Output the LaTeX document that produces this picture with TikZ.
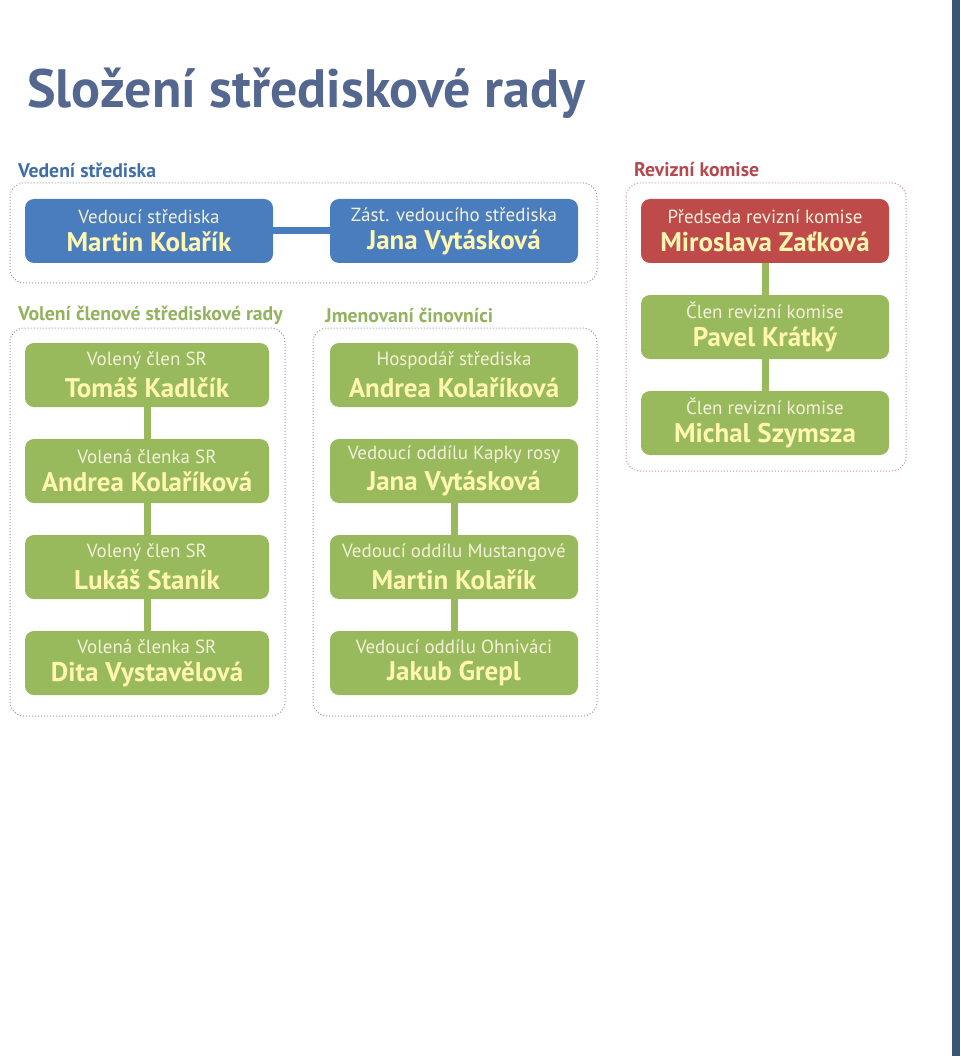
\documentclass[tikz,border=0pt]{standalone}
\usepackage{fontspec}
\setmainfont{PT Sans}

\definecolor{titleblue}{HTML}{53678F}
\definecolor{boxblue}{HTML}{4A7DBE}
\definecolor{boxred}{HTML}{BF4A4A}
\definecolor{boxgreen}{HTML}{98BA5D}
\definecolor{labelblue}{HTML}{3F6EAA}
\definecolor{labelred}{HTML}{B5474E}
\definecolor{labelgreen}{HTML}{93B25D}
\definecolor{roletext}{HTML}{F4F1DA}
\definecolor{nametext}{HTML}{FFF6B0}
\definecolor{sidebar}{HTML}{3B5574}

\newcommand{\member}[2]{{\fontsize{19}{22}\selectfont\color{roletext}#1}\\[7pt]{\fontsize{27}{30}\selectfont\bfseries\color{nametext}#2}}

\begin{document}
\begin{tikzpicture}[x=1pt, y=-1pt,
    box/.style={rounded corners=9pt, minimum height=64pt, align=center, inner sep=0pt},
    wbox/.style={box, minimum width=248pt},
    nbox/.style={box, minimum width=244pt},
    link/.style={line width=7pt},
    frame/.style={draw=gray!80, dotted, line width=1pt, rounded corners=14pt},
    seclabel/.style={anchor=west, font=\fontsize{19.7}{22}\selectfont\bfseries, inner sep=0pt}]

    \useasboundingbox (0,0) rectangle (960,1056);

    % Side bar
    \fill[sidebar] (952,0) rectangle (960,1056);

    % Title
    \node[anchor=base west, inner sep=0pt, text=titleblue, font=\fontsize{54}{58}\selectfont\bfseries] (title) at (27,108) {Složení střediskové rady};

    % Section labels
    \node[seclabel, text=labelblue] (lvedeni) at (18,170) {Vedení střediska};
    \node[seclabel, text=labelred] (lrevize) at (634,170) {Revizní komise};
    \node[seclabel, text=labelgreen] (lvoleni) at (18,315) {Volení členové střediskové rady};
    \node[seclabel, text=labelgreen] (ljmen) at (325,315) {Jmenovaní činovníci};

    % Frames
    \draw[frame] (10,183) rectangle (597,283);
    \draw[frame, draw=labelred!60] (626,183) rectangle (906,471);
    \draw[frame] (10,328) rectangle (285,716);
    \draw[frame] (313,328) rectangle (597,716);

    % Vedení
    \node[wbox, fill=boxblue] (vedouci) at (149,231) {\member{Vedoucí střediska}{Martin Kolařík}};
    \node[wbox, fill=boxblue] (zastupce) at (454,231) {\member{Zást. vedoucího střediska}{Jana Vytásková}};
    \draw[link, boxblue] (vedouci) -- (zastupce);

    % Revizní komise
    \node[wbox, fill=boxred] (predseda) at (765,231) {\member{Předseda revizní komise}{Miroslava Zaťková}};
    \node[wbox, fill=boxgreen] (rk1) at (765,327) {\member{Člen revizní komise}{Pavel Krátký}};
    \node[wbox, fill=boxgreen] (rk2) at (765,423) {\member{Člen revizní komise}{Michal Szymsza}};
    \draw[link, boxgreen] (predseda) -- (rk1);
    \draw[link, boxgreen] (rk1) -- (rk2);

    % Volení členové
    \node[nbox, fill=boxgreen] (vol1) at (147,375) {\member{Volený člen SR}{Tomáš Kadlčík}};
    \node[nbox, fill=boxgreen] (vol2) at (147,471) {\member{Volená členka SR}{Andrea Kolaříková}};
    \node[nbox, fill=boxgreen] (vol3) at (147,567) {\member{Volený člen SR}{Lukáš Staník}};
    \node[nbox, fill=boxgreen] (vol4) at (147,663) {\member{Volená členka SR}{Dita Vystavělová}};
    \draw[link, boxgreen] (vol1) -- (vol2);
    \draw[link, boxgreen] (vol2) -- (vol3);
    \draw[link, boxgreen] (vol3) -- (vol4);

    % Jmenovaní činovníci
    \node[wbox, fill=boxgreen] (jm1) at (454,375) {\member{Hospodář střediska}{Andrea Kolaříková}};
    \node[wbox, fill=boxgreen] (jm2) at (454,471) {\member{Vedoucí oddílu Kapky rosy}{Jana Vytásková}};
    \node[wbox, fill=boxgreen] (jm3) at (454,567) {\member{Vedoucí oddílu Mustangové}{Martin Kolařík}};
    \node[wbox, fill=boxgreen] (jm4) at (454,663) {\member{Vedoucí oddílu Ohniváci}{Jakub Grepl}};
    \draw[link, boxgreen] (jm2) -- (jm3);
    \draw[link, boxgreen] (jm3) -- (jm4);

\end{tikzpicture}
\end{document}
